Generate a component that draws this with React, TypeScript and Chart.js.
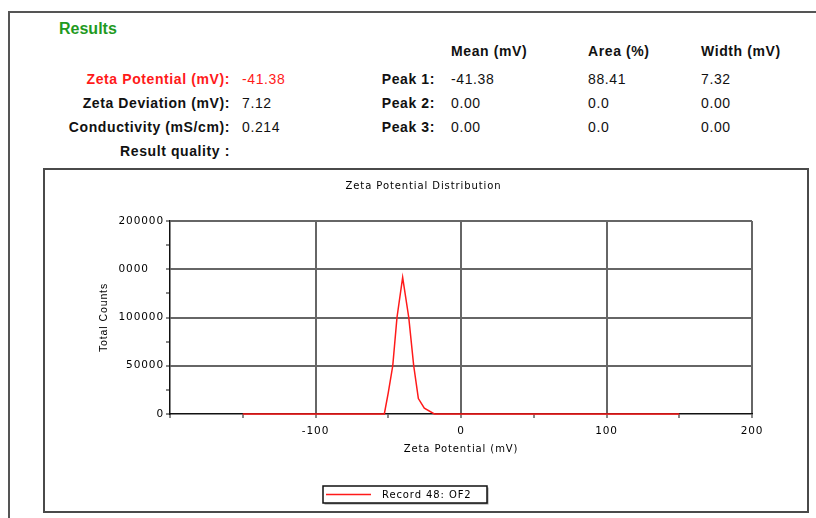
import React, { useEffect, useRef } from 'react';
import { Chart, registerables } from 'chart.js';

Chart.register(...registerables);

// ---- Data ----
const ZETA_MV = [-150, -52.7, -50.0, -46.9, -44.0, -40.1, -35.9, -32.5, -29.3, -25.2, -18.3, 150];
const TOTAL_COUNTS = [0, 0, 22000, 50000, 100000, 141500, 100000, 50000, 16000, 6000, 0, 0];

const X_TICK_MARKS = [-200, -150, -100, -50, 0, 50, 100, 150, 200];
const X_TICK_VALUES = [-100, 0, 100, 200];
const X_TICK_LABELS = ['-100', '0', '100', '200'];

const Y_TICK_MARKS = [0, 25000, 50000, 75000, 100000, 125000, 150000, 175000, 200000];
const Y_TICK_VALUES = [0, 50000, 100000, 150000, 200000];
const Y_TICK_LABELS = ['0', '50000', '100000', '0000\u2007\u2007', '200000'];

const SERIES_LABEL = 'Record 48: OF2';
const CHART_TITLE = 'Zeta Potential Distribution';
const X_TITLE = 'Zeta Potential (mV)';
const Y_TITLE = 'Total Counts';

const SUMMARY_LABELS = ['Zeta Potential (mV):', 'Zeta Deviation (mV):', 'Conductivity (mS/cm):', 'Result quality :'];
const SUMMARY_VALUES = ['-41.38', '7.12', '0.214', ''];
const PEAK_HEADERS = ['Mean (mV)', 'Area (%)', 'Width (mV)'];
const PEAK_LABELS = ['Peak 1:', 'Peak 2:', 'Peak 3:'];
const PEAK_MEAN = ['-41.38', '0.00', '0.00'];
const PEAK_AREA = ['88.41', '0.0', '0.0'];
const PEAK_WIDTH = ['7.32', '0.00', '0.00'];

const FONT = '"Liberation Sans", Arial, Helvetica, sans-serif';
const CHART_FONT = '"DejaVu Sans", Verdana, sans-serif';
const RED = '#ff1a1a';
const TEXT = '#111111';
const CHART_TEXT = '#000000';

const ROW_CENTERS = [79, 103, 127, 151];
const PEAK_COLS = [451, 588, 701];

export default function App() {
  const canvasRef = useRef<HTMLCanvasElement>(null);

  useEffect(() => {
    const canvas = canvasRef.current;
    if (!canvas) return;
    Chart.defaults.font.family = CHART_FONT;

    const spacingPlugin = {
      id: 'spacing',
      beforeDraw(chart: any) {
        chart.ctx.letterSpacing = '0.9px';
      },
    };

    const legendPlugin = {
      id: 'boxLegend',
      afterDraw(chart: any) {
        const ctx = chart.ctx as CanvasRenderingContext2D;
        const ds = chart.data.datasets[0];
        const L = 278, T = 316, W = 164, H = 17;
        ctx.save();
        ctx.letterSpacing = '0.9px';
        ctx.fillStyle = '#9a9a9a';
        ctx.fillRect(L + 1.5, T + 1.5, W, H);
        ctx.fillStyle = '#ffffff';
        ctx.fillRect(L, T, W, H);
        ctx.strokeStyle = '#111';
        ctx.lineWidth = 1.5;
        ctx.strokeRect(L, T, W, H);
        ctx.strokeStyle = ds.borderColor;
        ctx.lineWidth = 1.5;
        ctx.beginPath();
        ctx.moveTo(L + 3, T + H / 2);
        ctx.lineTo(L + 48, T + H / 2);
        ctx.stroke();
        ctx.fillStyle = CHART_TEXT;
        ctx.font = `10px ${CHART_FONT}`;
        ctx.textBaseline = 'middle';
        ctx.textAlign = 'left';
        ctx.fillText(ds.label, L + 59, T + H / 2 + 0.5);
        ctx.restore();
      },
    };

    const chart = new Chart(canvas, {
      type: 'line',
      data: {
        datasets: [
          {
            label: SERIES_LABEL,
            data: ZETA_MV.map((x, i) => ({ x, y: TOTAL_COUNTS[i] })),
            borderColor: RED,
            backgroundColor: RED,
            borderWidth: 1.5,
            pointRadius: 0,
            tension: 0,
            fill: false,
            clip: false,
          },
        ],
      },
      options: {
        animation: false,
        responsive: false,
        devicePixelRatio: 1,
        layout: { padding: { left: 50, right: 55, top: 0, bottom: 47 } },
        plugins: {
          legend: { display: false },
          tooltip: { enabled: false },
          title: {
            display: true,
            text: CHART_TITLE,
            color: CHART_TEXT,
            font: { size: 10, weight: 'normal' },
            padding: { top: 10, bottom: 29 },
          },
        },
        scales: {
          x: {
            type: 'linear',
            min: -200,
            max: 200,
            afterBuildTicks: (s: any) => {
              s.ticks = X_TICK_MARKS.map((v) => ({ value: v }));
            },
            afterFit: (s: any) => {
              s.height = 50;
            },
            ticks: {
              autoSkip: false,
              maxRotation: 0,
              padding: 7,
              color: CHART_TEXT,
              font: { size: 10.5 },
              callback: (v: any) => {
                const i = X_TICK_VALUES.indexOf(Number(v));
                return i >= 0 ? X_TICK_LABELS[i] : '';
              },
            },
            grid: {
              color: (c: any) => (X_TICK_VALUES.includes(c.tick?.value) ? '#666666' : 'rgba(0,0,0,0)'),
              lineWidth: 2,
              tickColor: '#111',
              tickWidth: 1,
              tickLength: 4,
            },
            border: { color: '#111', width: 1.5 },
            title: {
              display: true,
              text: X_TITLE,
              color: CHART_TEXT,
              font: { size: 10 },
              padding: { top: 0, bottom: 9 },
            },
          },
          y: {
            type: 'linear',
            min: 0,
            max: 200000,
            afterBuildTicks: (s: any) => {
              s.ticks = Y_TICK_MARKS.map((v) => ({ value: v }));
            },
            afterFit: (s: any) => {
              s.width = 75;
            },
            ticks: {
              autoSkip: false,
              padding: 2,
              color: CHART_TEXT,
              font: { size: 10.5 },
              callback: (v: any) => {
                const i = Y_TICK_VALUES.indexOf(Number(v));
                return i >= 0 ? Y_TICK_LABELS[i] : '';
              },
            },
            grid: {
              color: (c: any) =>
                Y_TICK_VALUES.includes(c.tick?.value) && c.tick?.value !== 0 ? '#666666' : 'rgba(0,0,0,0)',
              lineWidth: 2,
              tickColor: '#111',
              tickWidth: 1,
              tickLength: 4,
            },
            border: { color: '#111', width: 1.5 },
            title: {
              display: true,
              text: Y_TITLE,
              color: CHART_TEXT,
              font: { size: 10.5, family: FONT },
              padding: { top: 3, bottom: 0 },
            },
          },
        },
      } as any,
      plugins: [spacingPlugin, legendPlugin],
    });
    return () => chart.destroy();
  }, []);

  const base: React.CSSProperties = {
    position: 'absolute',
    fontFamily: FONT,
    fontSize: 14,
    lineHeight: '16px',
    letterSpacing: '0.6px',
    color: TEXT,
    whiteSpace: 'nowrap',
  };

  return (
    <div
      style={{
        position: 'fixed',
        left: 0,
        top: 0,
        width: 816,
        height: 518,
        overflow: 'hidden',
        background: '#ffffff',
      }}
    >
      <div
        style={{
          position: 'absolute',
          left: 8,
          top: 11,
          width: 900,
          height: 600,
          border: '2px solid #555',
        }}
      />
      <div
        style={{
          ...base,
          left: 59,
          top: 20,
          fontSize: 16,
          lineHeight: '18px',
          letterSpacing: 0,
          fontWeight: 'bold',
          color: '#1f9a1f',
        }}
      >
        Results
      </div>
      {PEAK_HEADERS.map((h, i) => (
        <div key={h} style={{ ...base, left: PEAK_COLS[i], top: 42.5, fontWeight: 'bold' }}>
          {h}
        </div>
      ))}
      {SUMMARY_LABELS.map((l, i) => (
        <div
          key={l}
          style={{
            ...base,
            right: 816 - 230,
            top: ROW_CENTERS[i] - 8,
            fontWeight: 'bold',
            textAlign: 'right',
            color: i === 0 ? RED : TEXT,
          }}
        >
          {l}
        </div>
      ))}
      {SUMMARY_VALUES.map((v, i) =>
        v ? (
          <div key={'sv' + i} style={{ ...base, left: 242, top: ROW_CENTERS[i] - 8, color: i === 0 ? RED : TEXT }}>
            {v}
          </div>
        ) : null
      )}
      {PEAK_LABELS.map((l, i) => (
        <div
          key={l}
          style={{ ...base, right: 816 - 435, top: ROW_CENTERS[i] - 8, fontWeight: 'bold', textAlign: 'right' }}
        >
          {l}
        </div>
      ))}
      {PEAK_LABELS.map((_, i) => (
        <React.Fragment key={'pv' + i}>
          <div style={{ ...base, left: PEAK_COLS[0], top: ROW_CENTERS[i] - 8 }}>{PEAK_MEAN[i]}</div>
          <div style={{ ...base, left: PEAK_COLS[1], top: ROW_CENTERS[i] - 8 }}>{PEAK_AREA[i]}</div>
          <div style={{ ...base, left: PEAK_COLS[2], top: ROW_CENTERS[i] - 8 }}>{PEAK_WIDTH[i]}</div>
        </React.Fragment>
      ))}
      <div
        style={{
          position: 'absolute',
          left: 43,
          top: 168,
          width: 762,
          height: 341,
          border: '2px solid #4a4a4a',
          background: '#fff',
        }}
      >
        <canvas ref={canvasRef} width={762} height={341} style={{ display: 'block', width: 762, height: 341 }} />
      </div>
    </div>
  );
}
